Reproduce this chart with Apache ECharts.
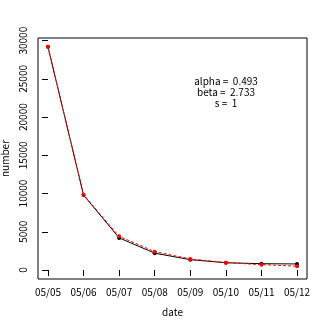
<!DOCTYPE html>
<html>
<head>
<meta charset="utf-8">
<script src="https://cdn.jsdelivr.net/npm/echarts@6/dist/echarts.min.js"></script>
<style>
  html, body { margin: 0; padding: 0; background: #fff; }
  #chart { width: 327px; height: 327px; }
</style>
</head>
<body>
<div id="chart"></div>
<script>
// observed counts vs fitted curve, one value per day
const dates = ['05/05', '05/06', '05/07', '05/08', '05/09', '05/10', '05/11', '05/12'];
const observed = [29200, 9800, 4200, 2200, 1350, 950, 820, 790];
const fitted = [29200, 9850, 4400, 2400, 1450, 960, 700, 490];
const yTicks = [0, 5000, 10000, 15000, 20000, 25000, 30000];
const notes = ['alpha =  0.493', 'beta =  2.733', 's =  1'];

const font = '"Noto Sans CJK JP", "DejaVu Sans", sans-serif';

const toPairs = arr => arr.map((v, i) => [i, v]);
const xIdx = dates.map((d, i) => i);

const chart = echarts.init(document.getElementById('chart'));

chart.setOption({
  animation: false,
  backgroundColor: '#fff',
  textStyle: { fontFamily: font, color: '#000' },
  grid: {
    left: 38, right: 20, top: 38, bottom: 48,
    outerBoundsMode: 'none',
    containLabel: false,
    show: true, borderColor: '#000', borderWidth: 1,
    backgroundColor: 'transparent'
  },
  xAxis: {
    type: 'value',
    min: -0.28,
    max: 7.28,
    name: 'date',
    nameLocation: 'middle',
    nameGap: 28,
    nameTextStyle: { fontFamily: font, fontSize: 10, color: '#000' },
    axisLine: { show: false },
    splitLine: { show: false },
    axisTick: { show: true, length: 6, customValues: xIdx, lineStyle: { color: '#000' } },
    axisLabel: {
      customValues: xIdx,
      margin: 8,
      fontFamily: font, fontSize: 10, color: '#000',
      formatter: v => dates[Math.round(v)]
    }
  },
  yAxis: {
    type: 'value',
    min: -1180,
    max: 30350,
    name: 'number',
    nameLocation: 'middle',
    nameGap: 27,
    nameTextStyle: { fontFamily: font, fontSize: 10, color: '#000' },
    axisLine: { show: false },
    splitLine: { show: false },
    axisTick: { show: true, length: 6, customValues: yTicks, lineStyle: { color: '#000' } },
    axisLabel: {
      customValues: yTicks,
      rotate: 90,
      margin: 10,
      fontFamily: font, fontSize: 10, color: '#000',
      formatter: v => String(v)
    }
  },
  graphic: [{
    type: 'text',
    x: 226,
    y: 76,
    style: {
      text: notes.join('\n'),
      font: '10px ' + font,
      fill: '#000',
      align: 'center',
      verticalAlign: 'top',
      lineHeight: 11
    }
  }],
  series: [
    {
      name: 'observed',
      type: 'line',
      data: toPairs(observed),
      symbol: 'circle',
      symbolSize: 4,
      itemStyle: { color: '#000' },
      lineStyle: { color: '#000', width: 1 },
      z: 2
    },
    {
      name: 'fitted',
      type: 'line',
      data: toPairs(fitted),
      symbol: 'circle',
      symbolSize: 4,
      itemStyle: { color: '#ff0000' },
      lineStyle: { color: '#ff0000', width: 1, type: [3, 2] },
      z: 3
    }
  ]
});
</script>
</body>
</html>
